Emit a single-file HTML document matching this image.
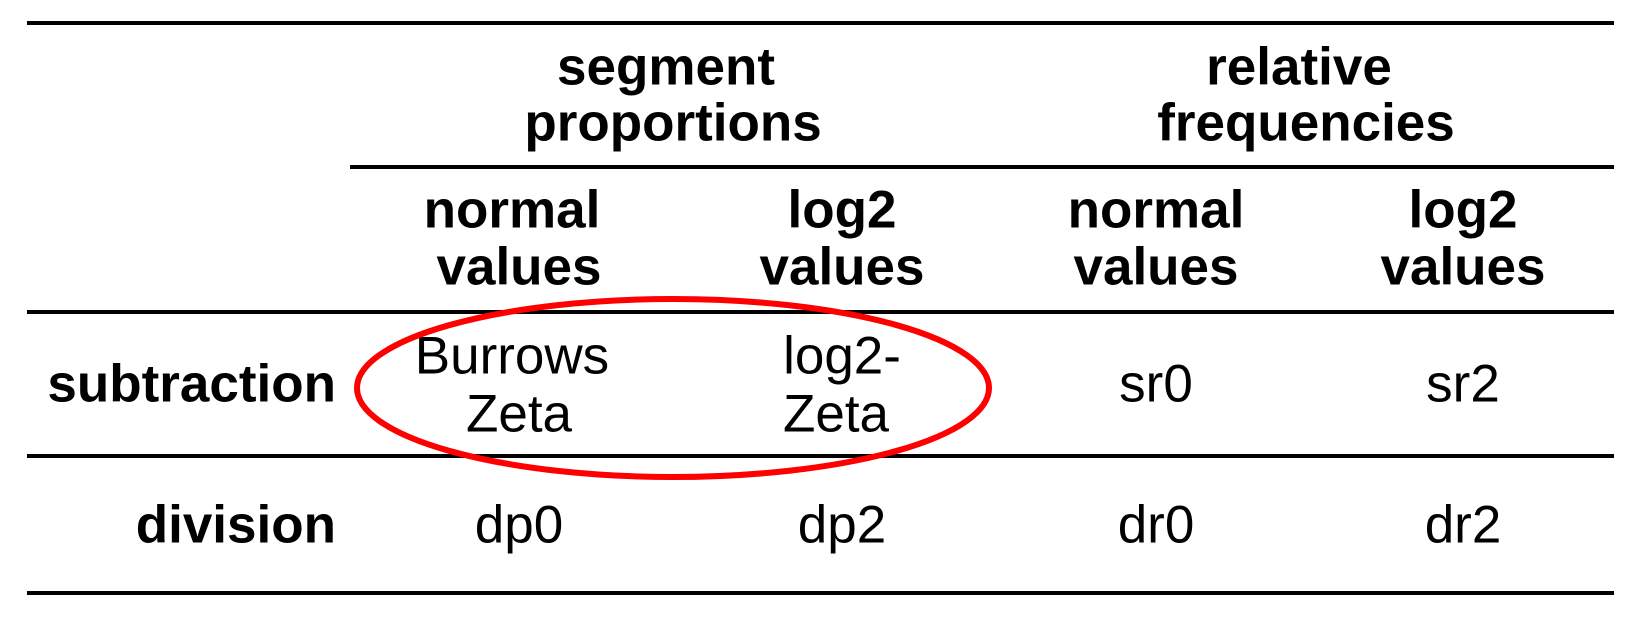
<!DOCTYPE html>
<html><head><style>
body{margin:0;width:1638px;height:632px;background:#fff;position:relative;overflow:hidden;font-family:"Liberation Sans",Arial,sans-serif;color:#000}
.l{position:absolute;height:4px;background:#000}
.t{position:absolute;font-size:53px;line-height:57px;text-align:center;white-space:nowrap;transform:translate(-50%,-50%)}
.b{font-weight:bold}
.r{position:absolute;font-size:53px;line-height:57px;font-weight:bold;transform:translateY(-50%);right:1302px;white-space:nowrap}
</style></head><body>
<div class="l" style="left:27px;width:1587px;top:21px"></div>
<div class="l" style="left:350px;width:1264px;top:165px"></div>
<div class="l" style="left:27px;width:1587px;top:310px"></div>
<div class="l" style="left:27px;width:1587px;top:454px"></div>
<div class="l" style="left:27px;width:1587px;top:591px"></div>

<div class="t b" style="left:666px;top:67px">segment</div>
<div class="t b" style="left:673px;top:123px">proportions</div>
<div class="t b" style="left:1299px;top:67px">relative</div>
<div class="t b" style="left:1306px;top:123px">frequencies</div>
<div class="t b" style="left:512px;top:210px">normal</div>
<div class="t b" style="left:519px;top:267px">values</div>
<div class="t b" style="left:842px;top:210px">log2</div>
<div class="t b" style="left:842px;top:267px">values</div>
<div class="t b" style="left:1156px;top:210px">normal</div>
<div class="t b" style="left:1156px;top:267px">values</div>
<div class="t b" style="left:1463px;top:210px">log2</div>
<div class="t b" style="left:1463px;top:267px">values</div>

<div class="r" style="top:384px">subtraction</div>
<div class="r" style="top:525px">division</div>

<div class="t" style="left:512px;top:356px">Burrows</div>
<div class="t" style="left:519px;top:414px">Zeta</div>
<div class="t" style="left:842px;top:356px">log2-</div>
<div class="t" style="left:836px;top:414px">Zeta</div>
<div class="t" style="left:1156px;top:384px">sr0</div>
<div class="t" style="left:1463px;top:384px">sr2</div>
<div class="t" style="left:519px;top:525px">dp0</div>
<div class="t" style="left:842px;top:525px">dp2</div>
<div class="t" style="left:1156px;top:525px">dr0</div>
<div class="t" style="left:1463px;top:525px">dr2</div>

<svg style="position:absolute;left:0;top:0" width="1638" height="632">
<ellipse cx="673" cy="388" rx="316" ry="89" fill="none" stroke="#ff0000" stroke-width="6"/>
</svg>
</body></html>
